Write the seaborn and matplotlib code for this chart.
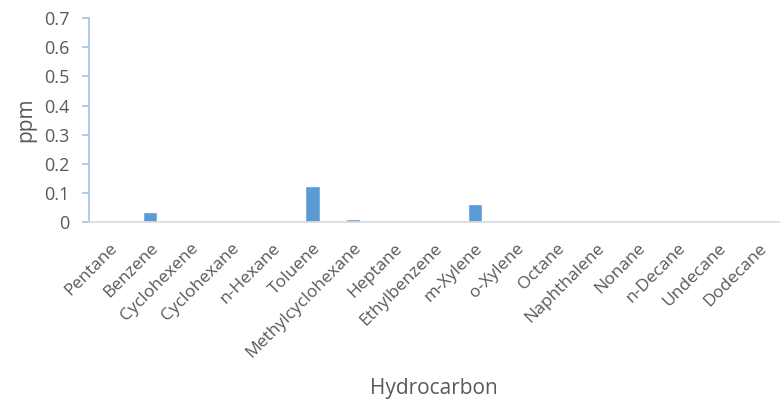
import matplotlib
matplotlib.use("Agg")
import matplotlib.pyplot as plt
import seaborn as sns
import pandas as pd

hydrocarbons = ["Pentane", "Benzene", "Cyclohexene", "Cyclohexane", "n-Hexane",
                "Toluene", "Methylcyclohexane", "Heptane", "Ethylbenzene",
                "m-Xylene", "o-Xylene", "Octane", "Naphthalene", "Nonane",
                "n-Decane", "Undecane", "Dodecane"]
ppm = [0, 0.034, 0, 0, 0, 0.124, 0.011, 0, 0, 0.062, 0, 0, 0, 0, 0, 0, 0]
y_ticks = [0, 0.1, 0.2, 0.3, 0.4, 0.5, 0.6, 0.7]
y_tick_labels = ["0", "0.1", "0.2", "0.3", "0.4", "0.5", "0.6", "0.7"]

df = pd.DataFrame({"Hydrocarbon": hydrocarbons, "ppm": ppm})

sns.set_style("white")
plt.rcParams["font.family"] = ["Open Sans", "DejaVu Sans"]

text_color = "#595959"
axis_blue = "#9dc3e6"
fig = plt.figure(figsize=(7.81, 4.03), dpi=100)
ax = fig.add_axes([0.114, 0.449, 0.884, 0.506])

sns.barplot(data=df, x="Hydrocarbon", y="ppm", color="#5b9bd5",
            width=0.35, saturation=1, ax=ax)

ax.set_xlim(-0.5, len(hydrocarbons) - 0.5)
ax.set_ylim(0, 0.7)
ax.set_yticks(y_ticks)
ax.set_yticklabels(y_tick_labels, fontsize=13, color=text_color)
ax.set_xticks(range(len(hydrocarbons)))
ax.set_xticklabels(hydrocarbons, rotation=45, ha="right",
                   rotation_mode="anchor", fontsize=12.5, color=text_color)

for side in ("top", "right"):
    ax.spines[side].set_visible(False)
ax.spines["left"].set_color(axis_blue)
ax.spines["left"].set_linewidth(1.2)
ax.spines["bottom"].set_color("#d9d9d9")
ax.spines["bottom"].set_linewidth(1.2)

ax.tick_params(axis="y", left=True, direction="out", length=5,
               color=axis_blue, width=1.2, pad=9)
ax.tick_params(axis="x", bottom=False, length=0, pad=13)

ax.set_xlabel("Hydrocarbon", fontsize=15, color=text_color, labelpad=12)
ax.set_ylabel("ppm", fontsize=15, color=text_color, labelpad=6)

fig.savefig("out.png", dpi=100)
